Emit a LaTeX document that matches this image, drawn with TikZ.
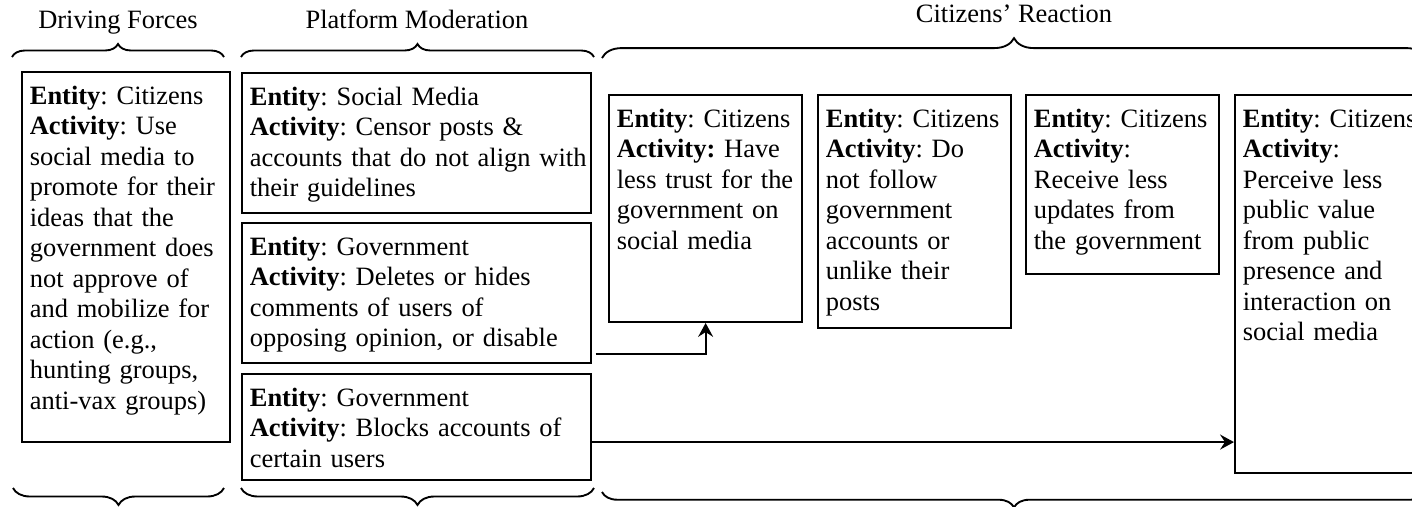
\documentclass[tikz,border=0pt]{standalone}
\usepackage{fontspec}
\setmainfont{Liberation Serif}
\usetikzlibrary{arrows.meta,decorations.pathreplacing}
\frenchspacing
\hyphenpenalty=10000
\exhyphenpenalty=10000

\begin{document}
\begin{tikzpicture}[
            x=0.4535pt, y=-0.4535pt,
            font=\fontsize{12pt}{13.85pt}\selectfont,
            card/.style={draw, line width=0.85pt, anchor=north west, align=left,
                    inner xsep=3.6pt, inner ysep=0pt, text height=14.6pt},
            flow/.style={-{Stealth[length=6.3pt, width=6.8pt, inset=2.2pt]}, line width=0.85pt},
            bracetop/.style={decorate, decoration={brace, amplitude=#1}, line width=0.85pt},
            bracebot/.style={decorate, decoration={brace, mirror, amplitude=#1}, line width=0.85pt}
        ]
        \useasboundingbox (0,0) rectangle (1412,506);
        \clip (0,0) rectangle (1412,506);

        % 标题
        \node[anchor=base] (hdf) at (118,28) {Driving Forces};
        \node[anchor=base] (hpm) at (417,28) {Platform Moderation};
        \node[anchor=base] (hcr) at (1014,22) {Citizens’ Reaction};

        % 括号
        \draw[bracetop=5.9pt] (12,57) -- (224,57);
        \draw[bracetop=5.9pt] (241,57) -- (594,57);
        \draw[bracetop=9pt] (602,58) -- (1426,58);
        \draw[bracebot=7.7pt] (13,488) -- (224,488);
        \draw[bracebot=7.7pt] (241,488) -- (594,488);
        \draw[bracebot=7pt] (602,492) -- (1426,492);

        % Driving Forces
        \node[card, text width=87.1pt, text depth=153.3pt] (df) at (21,71)
            {\textbf{Entity}: Citizens\\ \textbf{Activity}: Use\\ social media to\\ promote for their\\ ideas that the\\ government does\\ not approve of\\ and mobilize for\\ action (e.g.,\\ hunting groups,\\ anti-vax groups)};

        % Platform Moderation
        \node[card, text width=151pt, text depth=49pt] (pm1) at (241,72)
            {\textbf{Entity}: Social Media\\ \textbf{Activity}: Censor posts \&\\ \mbox{accounts that do not align with}\\ their guidelines};
        \node[card, text width=151pt, text depth=49pt] (pm2) at (241,222)
            {\textbf{Entity}: Government\\ \textbf{Activity}: Deletes or hides\\ comments of users of\\ opposing opinion, or disable};
        \node[card, text width=151pt, text depth=33.6pt] (pm3) at (241,373)
            {\textbf{Entity}: Government\\ \textbf{Activity}: Blocks accounts of\\ certain users};

        % Citizens' Reaction
        \node[card, text width=80.5pt, text depth=88.4pt] (cr1) at (608,94)
            {\textbf{Entity}: Citizens\\ \textbf{Activity:} Have\\ less trust for the\\ government on\\ social media};
        \node[card, text width=80.5pt, text depth=91.2pt] (cr2) at (817,94)
            {\textbf{Entity}: Citizens\\ \textbf{Activity}: Do\\ not follow\\ government\\ accounts or\\ unlike their\\ posts};
        \node[card, text width=80.5pt, text depth=66.7pt] (cr3) at (1025,94)
            {\textbf{Entity}: Citizens\\ \textbf{Activity}:\\ Receive less\\ updates from\\ the government};
        \node[card, text width=80.5pt, text depth=156.9pt] (cr4) at (1234,94)
            {\textbf{Entity}: Citizens\\ \textbf{Activity}:\\ Perceive less\\ public value\\ from public\\ presence and\\ interaction on\\ social media};

        % 箭头
        \draw[flow] ([xshift=1.8pt, yshift=4.5pt]pm2.south east) -| (cr1.south);
        \coordinate (blk) at ([yshift=-6.8pt]pm3.east);
        \draw[flow] (blk) -- (blk -| cr4.west);
    \end{tikzpicture}
\end{document}
